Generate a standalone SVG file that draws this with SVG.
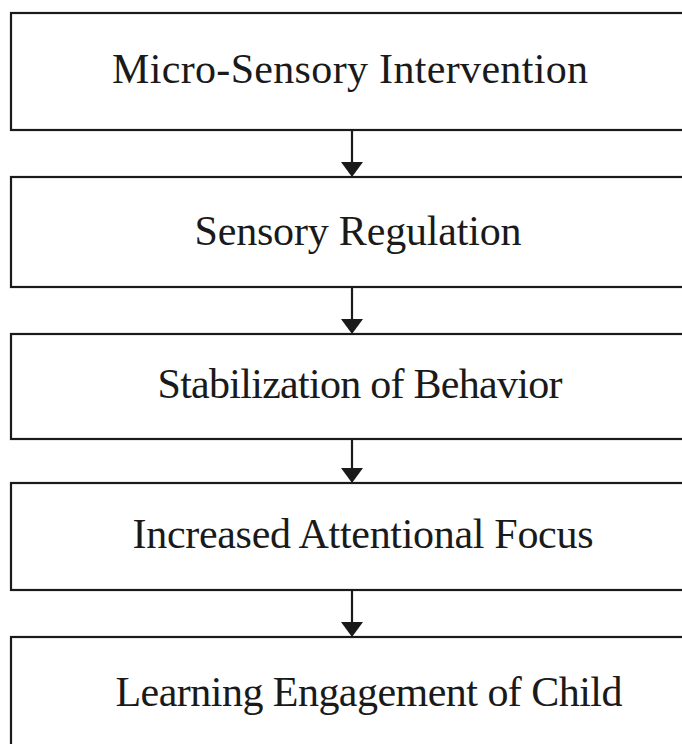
<svg xmlns="http://www.w3.org/2000/svg" width="682" height="744" viewBox="0 0 682 744">
<style>
.box{fill:#fff;stroke:#1a1a1a;stroke-width:2.2}
.lbl{font-family:"Liberation Serif","Times New Roman",serif;font-size:42px;fill:#1a1a1a;text-anchor:middle}
.conn line{stroke:#1a1a1a;stroke-width:2.2}
.conn polygon{fill:#1a1a1a}
</style>
<rect width="682" height="744" fill="#fff"/>
<g id="n1"><rect class="box" x="11" y="13" width="682" height="117"/><text class="lbl" x="350" y="83" textLength="476" lengthAdjust="spacing">Micro-Sensory Intervention</text></g>
<g id="n2"><rect class="box" x="11" y="177" width="682" height="110"/><text class="lbl" x="358" y="245" textLength="327" lengthAdjust="spacing">Sensory Regulation</text></g>
<g id="n3"><rect class="box" x="11" y="334" width="682" height="105"/><text class="lbl" x="360" y="398" textLength="405" lengthAdjust="spacing">Stabilization of Behavior</text></g>
<g id="n4"><rect class="box" x="11" y="483" width="682" height="107"/><text class="lbl" x="363" y="548" textLength="461" lengthAdjust="spacing">Increased Attentional Focus</text></g>
<g id="n5"><rect class="box" x="11" y="637" width="682" height="120"/><text class="lbl" x="369" y="706" textLength="507" lengthAdjust="spacing">Learning Engagement of Child</text></g>
<g id="connectors" class="conn">
<line x1="352" y1="130" x2="352" y2="163"/><polygon points="341,162 363,162 352,177"/>
<line x1="352" y1="287" x2="352" y2="320"/><polygon points="341,319 363,319 352,334"/>
<line x1="352" y1="439" x2="352" y2="469"/><polygon points="341,468 363,468 352,483"/>
<line x1="352" y1="590" x2="352" y2="623"/><polygon points="341,622 363,622 352,637"/>
</g>
</svg>
